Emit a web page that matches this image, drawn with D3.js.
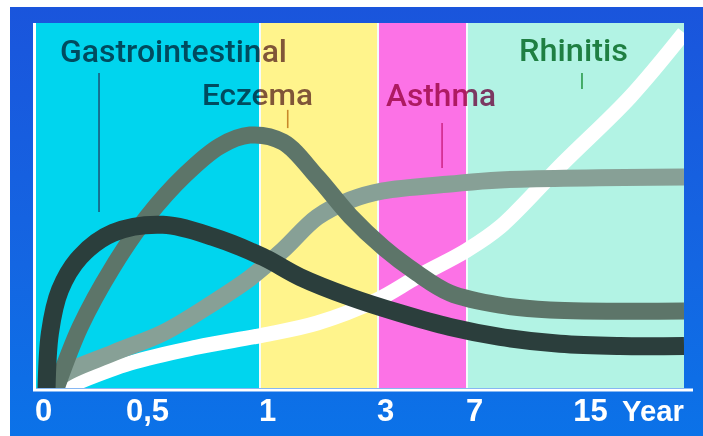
<!DOCTYPE html>
<html><head><meta charset="utf-8">
<script src="https://cdn.jsdelivr.net/npm/d3@7"></script>
<style>html,body{margin:0;padding:0;background:#fff;overflow:hidden}</style>
</head><body>
<svg id="chart" width="703" height="436"></svg>
<script>
// ---------- DATA ----------
const tickValues = [0, 0.5, 1, 3, 7, 15];
const tickLabels = ["0", "0,5", "1", "3", "7", "15"];
const axisUnit = "Year";
const ageBreaks = [0, 0.5, 1, 3, 7, 15, 20];

const periodNames = ["Gastrointestinal", "Eczema", "Asthma", "Rhinitis"];
const periodStart = [0, 1, 3, 7];
const periodEnd   = [1, 3, 7, 20];

// marker ticks under each label (age, from level, to level)
const markerAge  = [0.303, 1.47, 5.88, 14.93];
const markerFrom = [48.2, 71.2, 60.3, 81.9];
const markerTo   = [86.3, 76.2, 72.6, 86.3];

// curves: ages and relative prevalence (0-100)
const gastroAge   = [0.05, 0.067, 0.115, 0.212, 0.370, 0.596, 0.804, 1.05, 1.68, 2.53, 3.99, 6.24, 9.28, 13.41, 16.83, 20];
const gastroValue = [-2, 15.1, 26.8, 35.9, 42.5, 44.7, 41.4, 35.9, 30.4, 24.9, 20.5, 16.7, 14.0, 12.1, 11.5, 11.5];

const eczemaAge   = [0.085, 0.212, 0.370, 0.529, 0.6875, 0.833, 0.958, 1.39, 1.97, 2.53, 3.22, 4.75, 6.24, 9.28, 12.72, 20];
const eczemaValue = [-2, 16.7, 33.2, 46.8, 58.4, 66.3, 69.3, 67.4, 57.8, 47.1, 38.6, 31.5, 26.0, 22.7, 21.4, 21.1];

const asthmaAge   = [0.075, 0.115, 0.370, 0.596, 0.804, 0.958, 1.39, 1.97, 2.53, 3.22, 6.24, 9.28, 20];
const asthmaValue = [-1, 3.0, 9.6, 15.1, 23.3, 30.1, 37.8, 46.8, 51.5, 54.0, 55.9, 57.0, 57.8];

const rhinitisAge   = [0.091, 0.452, 0.7375, 1.05, 1.97, 2.98, 4.75, 7, 9.28, 13.62, 17.33, 20];
const rhinitisValue = [-1, 6.8, 11.2, 14.5, 17.8, 24.1, 30.4, 37.8, 44.1, 61.6, 79.7, 97.3];

// ---------- DRAW ----------
const svg = d3.select("#chart");
const W = 703, H = 436;
const plot = {left: 36, right: 684, top: 23, bottom: 388};

const x = d3.scaleLinear().domain(ageBreaks).range([36, 140, 260, 378, 467, 583, 684]);
const y = d3.scaleLinear().domain([0, 100]).range([plot.bottom, plot.top]);

const defs = svg.append("defs");
const grad = defs.append("linearGradient").attr("id", "bg").attr("x1", 0).attr("y1", 0).attr("x2", 0).attr("y2", 1);
grad.append("stop").attr("offset", "0%").attr("stop-color", "#1a55dc");
grad.append("stop").attr("offset", "60%").attr("stop-color", "#1466e2");
grad.append("stop").attr("offset", "100%").attr("stop-color", "#0b72e8");
defs.append("clipPath").attr("id", "clip").append("rect")
  .attr("x", plot.left).attr("y", plot.top)
  .attr("width", plot.right - plot.left).attr("height", plot.bottom - plot.top);

svg.append("rect").attr("width", W).attr("height", H).attr("fill", "#ffffff");
svg.append("rect").attr("x", 10).attr("y", 7).attr("width", W - 10).attr("height", H - 7).attr("fill", "url(#bg)");

// plot background (white seams between bands)
svg.append("rect").attr("x", plot.left).attr("y", plot.top)
  .attr("width", plot.right - plot.left).attr("height", plot.bottom - plot.top).attr("fill", "#f4fbfb");

const bandColors = ["#00d5ee", "#fff48c", "#fc72e6", "#b2f3e4"];
svg.append("g").selectAll("rect").data(periodNames).join("rect")
  .attr("x", (d, i) => x(periodStart[i]) + (i === 0 ? 0 : 1))
  .attr("y", plot.top)
  .attr("width", (d, i) => x(periodEnd[i]) - x(periodStart[i]) - (i === 0 ? 1 : 2) + (i === 3 ? 1 : 0))
  .attr("height", plot.bottom - plot.top)
  .attr("fill", (d, i) => bandColors[i]);

// curves
const line = d3.line().x(d => x(d[0])).y(d => y(d[1])).curve(d3.curveCatmullRom.alpha(0.5));
const series = [
  {age: rhinitisAge, val: rhinitisValue, color: "#ffffff", w: 15},
  {age: asthmaAge,   val: asthmaValue,   color: "#87a096", w: 17},
  {age: eczemaAge,   val: eczemaValue,   color: "#5d7569", w: 17},
  {age: gastroAge,   val: gastroValue,   color: "#2b3e3c", w: 18}
];
const cg = svg.append("g").attr("clip-path", "url(#clip)");
cg.selectAll("path").data(series).join("path")
  .attr("d", s => line(s.age.map((a, i) => [a, s.val[i]])))
  .attr("fill", "none")
  .attr("stroke", s => s.color)
  .attr("stroke-width", s => s.w)
  .attr("stroke-linecap", "butt")
  .attr("stroke-linejoin", "round");

// labels and marker ticks
const labelPos = [[60, 62, 32], [202, 105, 30], [386, 106, 31], [519, 61, 32]];
const labelColors = ["#805a66", "#805a66", "#b03a6c", "#1f7f42"];
const labelBlend = ["multiply", "multiply", "multiply", "normal"];
const markerColors = ["#1b5a7c", "#c8882a", "#d0288a", "#2a9a4a"];
svg.append("g").selectAll("line").data(periodNames).join("line")
  .attr("x1", (d, i) => x(markerAge[i])).attr("x2", (d, i) => x(markerAge[i]))
  .attr("y1", (d, i) => y(markerFrom[i])).attr("y2", (d, i) => y(markerTo[i]))
  .attr("stroke", (d, i) => markerColors[i]).attr("stroke-width", 1.6);
svg.append("g").selectAll("text").data(periodNames).join("text")
  .attr("x", (d, i) => labelPos[i][0]).attr("y", (d, i) => labelPos[i][1])
  .attr("font-family", "Roboto, 'Liberation Sans', Arial, sans-serif")
  .attr("font-weight", 500)
  .attr("font-size", (d, i) => labelPos[i][2])
  .attr("textLength", (d, i) => [227, 111, 110, 109][i])
  .attr("lengthAdjust", "spacingAndGlyphs")
  .attr("fill", (d, i) => labelColors[i])
  .style("mix-blend-mode", (d, i) => labelBlend[i])
  .text(d => d);

// axes lines
svg.append("line").attr("x1", 34.5).attr("x2", 34.5).attr("y1", plot.top).attr("y2", 391)
  .attr("stroke", "#ffffff").attr("stroke-width", 3);
svg.append("line").attr("x1", 33).attr("x2", 693).attr("y1", 390).attr("y2", 390)
  .attr("stroke", "#ffffff").attr("stroke-width", 3);

// x axis labels
const ax = svg.append("g").attr("transform", "translate(0,390)")
  .call(d3.axisBottom(x).tickValues(tickValues).tickFormat((d, i) => tickLabels[i]).tickSize(0));
ax.select(".domain").remove();
ax.selectAll("text")
  .attr("dx", 7).attr("y", 31).attr("dy", 0)
  .attr("fill", "#ffffff")
  .attr("font-family", "'Liberation Sans', Arial, sans-serif")
  .attr("font-weight", "bold").attr("font-size", 31);
svg.append("text").attr("x", 622).attr("y", 421)
  .attr("fill", "#ffffff")
  .attr("font-family", "'Liberation Sans', Arial, sans-serif")
  .attr("font-weight", "bold").attr("font-size", 30)
  .attr("textLength", 62).attr("lengthAdjust", "spacingAndGlyphs")
  .text(axisUnit);
</script>
</body></html>
